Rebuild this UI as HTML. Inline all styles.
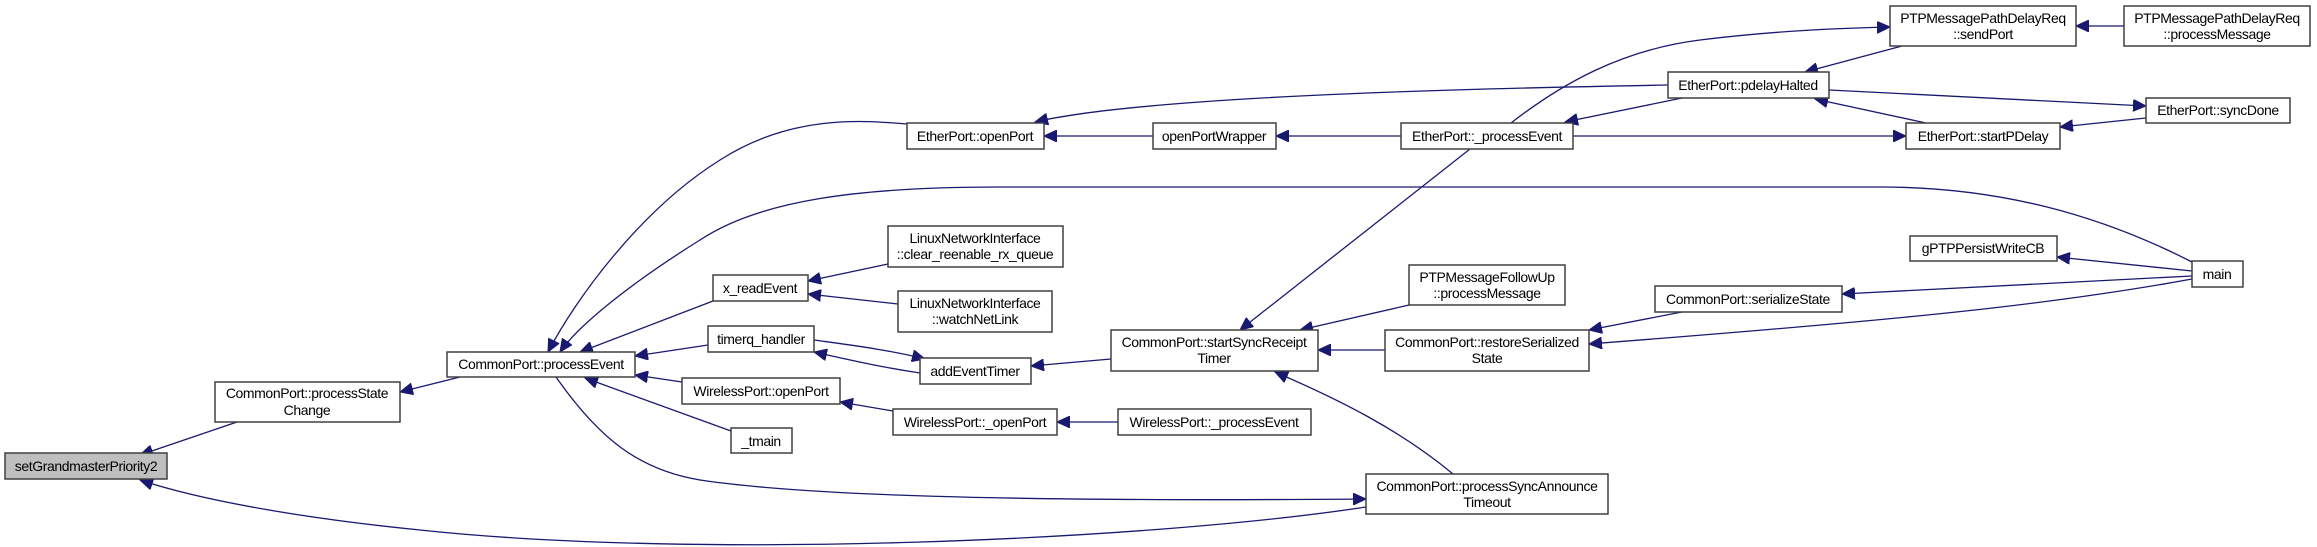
<!DOCTYPE html>
<html><head><meta charset="utf-8"><style>
html,body{margin:0;padding:0;background:#fff;}
svg{display:block;}
text{font-family:"Liberation Sans",sans-serif;font-size:14px;fill:#000;text-anchor:middle;letter-spacing:-0.4px;}
rect{fill:#fff;stroke:#404040;stroke-width:1.5;}
path{fill:none;stroke:#191970;stroke-width:1.3;}
</style></head><body>
<svg width="2317" height="547" viewBox="0 0 2317 547" xmlns="http://www.w3.org/2000/svg">
<defs><marker id="a" markerUnits="userSpaceOnUse" markerWidth="14" markerHeight="12" refX="13" refY="6" orient="auto"><path d="M0,0 L13,6 L0,12 Z" style="fill:#191970;stroke:#191970;stroke-width:1"/></marker></defs>
<g marker-end="url(#a)">
<path d="M237,422 L140,455"/>
<path d="M1366,507 C1150,540 700,560 420,530 C300,518 200,500 140,480"/>
<path d="M460,377 L400,392"/>
<path d="M907,124 C860,120 790,115 720,160 C640,210 575,300 548,352"/>
<path d="M2192,262 C2100,215 2000,187 1880,187 L1000,187 C860,187 760,200 700,240 C620,290 575,330 560,352"/>
<path d="M713,301 L580,352"/>
<path d="M708,345 L635,356"/>
<path d="M682,382 L635,375"/>
<path d="M731,431 L585,378"/>
<path d="M556,377 C600,440 640,470 700,480 C800,495 1000,502 1366,499"/>
<path d="M888,264 L808,281"/>
<path d="M898,304 L808,294"/>
<path d="M814,340 C850,345 890,350 925,359"/>
<path d="M920,373 C880,367 850,360 814,352"/>
<path d="M1111,359 L1031,366"/>
<path d="M893,411 L840,402"/>
<path d="M1118,422 L1057,422"/>
<path d="M1153,136 L1044,136"/>
<path d="M1401,136 L1276,136"/>
<path d="M1668,85 C1500,88 1150,95 1035,122"/>
<path d="M1470,149 L1240,330"/>
<path d="M1409,305 L1300,330"/>
<path d="M1385,350 L1318,350"/>
<path d="M1453,474 C1400,430 1340,400 1275,372"/>
<path d="M1511,123 C1560,85 1620,50 1700,40 C1780,30 1850,28 1890,27"/>
<path d="M1682,98 L1565,122"/>
<path d="M1573,136 L1906,136"/>
<path d="M1902,46 L1805,72"/>
<path d="M1926,123 L1815,99"/>
<path d="M1829,90 L2146,106"/>
<path d="M2146,118 L2060,127"/>
<path d="M2124,26 L2076,26"/>
<path d="M2192,271 L2057,257"/>
<path d="M2192,276 L1842,294"/>
<path d="M2192,279 C2050,305 1900,320 1589,344"/>
<path d="M1682,312 L1589,330"/>
</g>
<rect x="5" y="453" width="162" height="26" style="fill:#bfbfbf"/><text x="86" y="471">setGrandmasterPriority2</text>
<rect x="215" y="382" width="185" height="40"/><text x="307" y="398">CommonPort::processState</text><text x="307" y="415">Change</text>
<rect x="447" y="352" width="188" height="25"/><text x="541" y="369">CommonPort::processEvent</text>
<rect x="713" y="275" width="95" height="26"/><text x="760" y="293">x_readEvent</text>
<rect x="708" y="326" width="106" height="26"/><text x="761" y="344">timerq_handler</text>
<rect x="682" y="378" width="158" height="26"/><text x="761" y="396">WirelessPort::openPort</text>
<rect x="731" y="428" width="61" height="25"/><text x="761" y="446">_tmain</text>
<rect x="907" y="123" width="137" height="26"/><text x="975" y="141">EtherPort::openPort</text>
<rect x="1153" y="123" width="123" height="26"/><text x="1214" y="141">openPortWrapper</text>
<rect x="1401" y="123" width="172" height="26"/><text x="1487" y="141">EtherPort::_processEvent</text>
<rect x="888" y="226" width="175" height="41"/><text x="975" y="243">LinuxNetworkInterface</text><text x="975" y="259">::clear_reenable_rx_queue</text>
<rect x="898" y="291" width="154" height="41"/><text x="975" y="308">LinuxNetworkInterface</text><text x="975" y="324">::watchNetLink</text>
<rect x="920" y="358" width="111" height="26"/><text x="975" y="376">addEventTimer</text>
<rect x="893" y="409" width="164" height="26"/><text x="975" y="427">WirelessPort::_openPort</text>
<rect x="1118" y="409" width="193" height="26"/><text x="1214" y="427">WirelessPort::_processEvent</text>
<rect x="1111" y="330" width="207" height="41"/><text x="1214" y="347">CommonPort::startSyncReceipt</text><text x="1214" y="363">Timer</text>
<rect x="1409" y="265" width="156" height="40"/><text x="1487" y="282">PTPMessageFollowUp</text><text x="1487" y="298">::processMessage</text>
<rect x="1385" y="330" width="204" height="41"/><text x="1487" y="347">CommonPort::restoreSerialized</text><text x="1487" y="363">State</text>
<rect x="1366" y="474" width="242" height="40"/><text x="1487" y="491">CommonPort::processSyncAnnounce</text><text x="1487" y="507">Timeout</text>
<rect x="1890" y="6" width="186" height="40"/><text x="1983" y="23">PTPMessagePathDelayReq</text><text x="1983" y="39">::sendPort</text>
<rect x="2124" y="6" width="186" height="40"/><text x="2217" y="23">PTPMessagePathDelayReq</text><text x="2217" y="39">::processMessage</text>
<rect x="1668" y="72" width="161" height="26"/><text x="1748" y="90">EtherPort::pdelayHalted</text>
<rect x="2146" y="98" width="144" height="25"/><text x="2218" y="115">EtherPort::syncDone</text>
<rect x="1906" y="123" width="154" height="26"/><text x="1983" y="141">EtherPort::startPDelay</text>
<rect x="1910" y="236" width="147" height="25"/><text x="1983" y="253">gPTPPersistWriteCB</text>
<rect x="2192" y="261" width="51" height="26"/><text x="2217" y="279">main</text>
<rect x="1655" y="286" width="187" height="26"/><text x="1748" y="304">CommonPort::serializeState</text>
</svg>
</body></html>
